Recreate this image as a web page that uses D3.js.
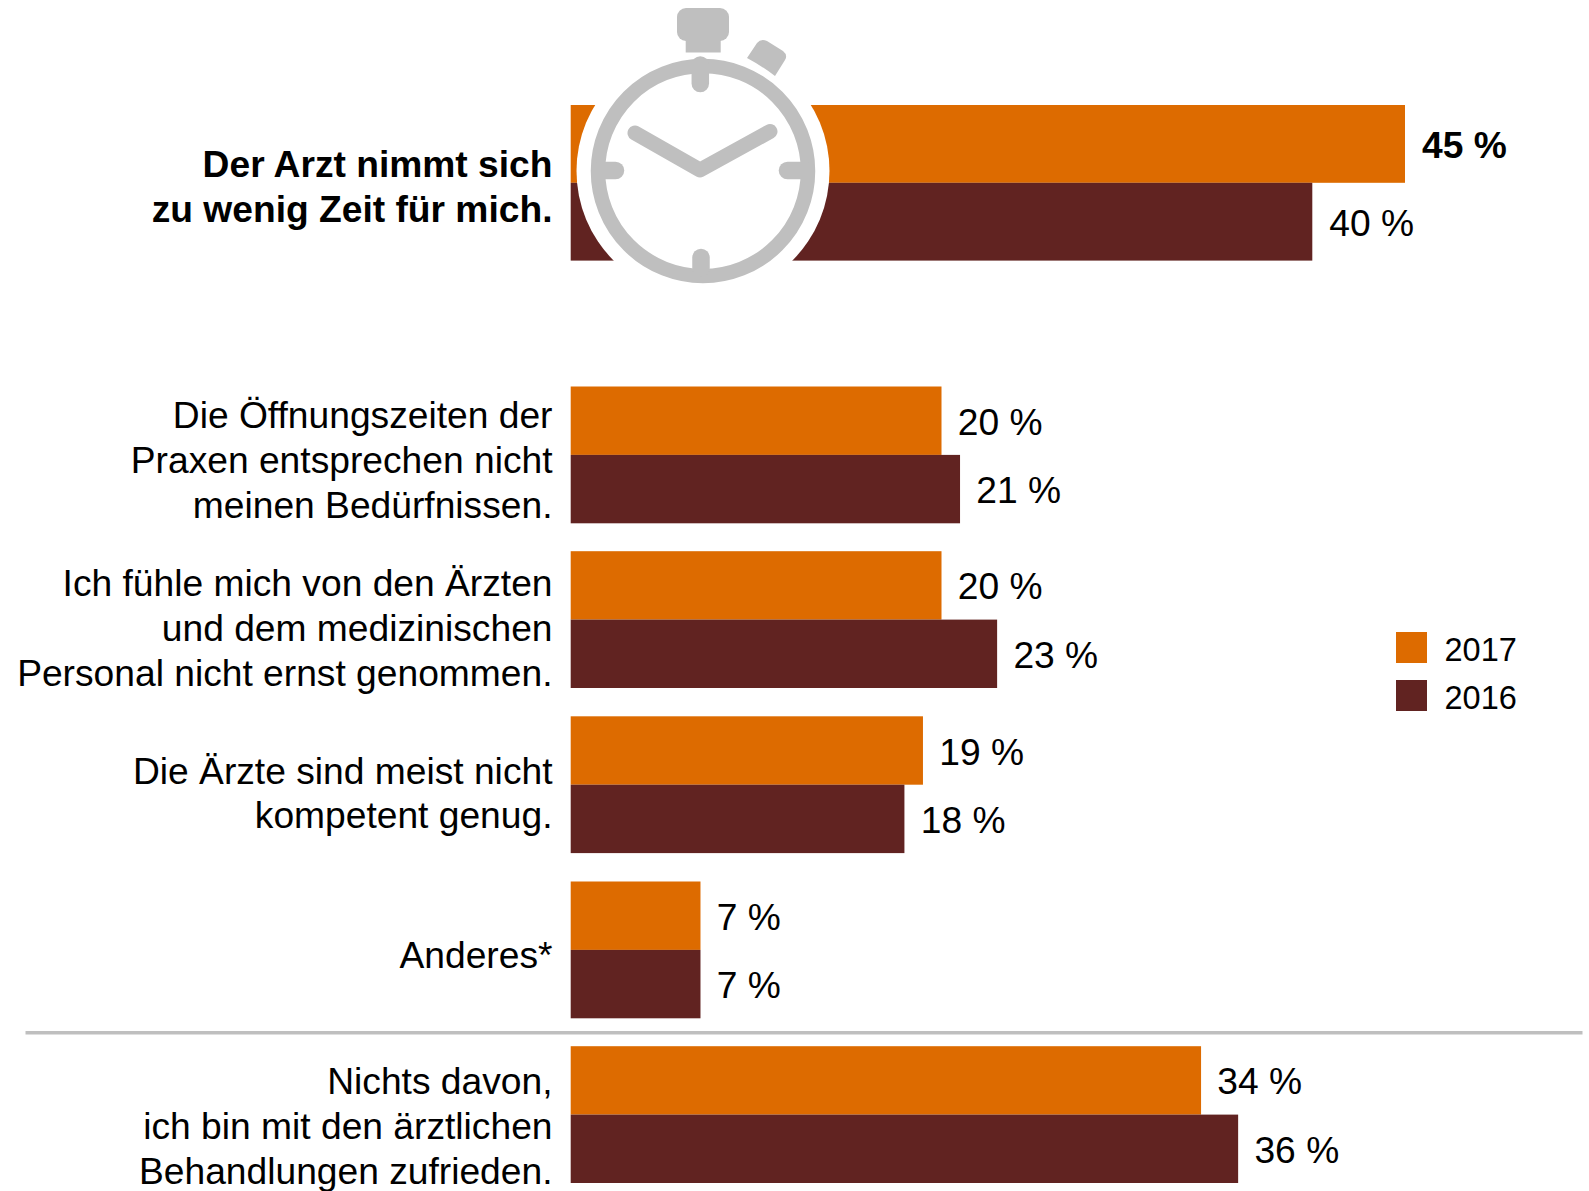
<!DOCTYPE html>
<html><head><meta charset="utf-8"><script src="https://cdn.jsdelivr.net/npm/d3@7"></script>
<style>html,body{margin:0;padding:0;background:#fff}svg{display:block}text{font-family:"Liberation Sans",Arial,sans-serif;fill:#000}</style></head>
<body><svg id="c" width="1589" height="1191"></svg>
<script>
const categories=[["Der Arzt nimmt sich","zu wenig Zeit für mich."],["Die Öffnungszeiten der","Praxen entsprechen nicht","meinen Bedürfnissen."],["Ich fühle mich von den Ärzten","und dem medizinischen","Personal nicht ernst genommen."],["Die Ärzte sind meist nicht","kompetent genug."],["Anderes*"],["Nichts davon,","ich bin mit den ärztlichen","Behandlungen zufrieden."]];
const values2017=[45,20,20,19,7,34];
const values2016=[40,21,23,18,7,36];
const years=["2017","2016"];
const colors=["#dd6b00","#612321"];
// layout
const groupTops=[105,386.5,551.2,716.3,881.5,1046.2];
const labelOffsets=[16.3,18.3,21.2,21.2,18.5,24.2];
const svg=d3.select("#c");
const x=d3.scaleLinear().domain([0,45]).range([570.7,1405]);
const barH=i=>i===0?77.8:68.4;
const FS=37.2,LH=44.8;
categories.forEach((lines,i)=>{
 const top=groupTops[i],h=barH(i),bold=i===0;
 [values2017[i],values2016[i]].forEach((v,k)=>{
  const y=top+k*h;
  svg.append("rect").attr("x",x(0)).attr("y",y).attr("width",x(v)-x(0)).attr("height",h).attr("fill",colors[k]);
  svg.append("text").attr("x",x(v)+(bold?17:16.3)).attr("y",y+h/2+14).attr("font-size",FS)
   .attr("font-weight",bold&&k===0?"bold":"normal").text(v+" %");
 });
 const first=top+h+labelOffsets[i]-(lines.length-1)*LH/2;
 lines.forEach((t,j)=>svg.append("text").attr("x",552.5).attr("y",first+j*LH).attr("text-anchor","end")
  .attr("font-size",FS).attr("font-weight",bold?"bold":"normal").text(t));
});
svg.append("line").attr("x1",25.5).attr("x2",1582.5).attr("y1",1032.8).attr("y2",1032.8).attr("stroke","#bfbfbf").attr("stroke-width",3.5);
years.forEach((yr,k)=>{
 const y=632+k*48;
 svg.append("rect").attr("x",1396).attr("y",y).attr("width",31).attr("height",31).attr("fill",colors[k]);
 svg.append("text").attr("x",1444.5).attr("y",y+29).attr("font-size",32.5).text(yr);
});
const g=svg.append("g"),cx=703,cy=171,gc="#bfbfbf";
g.append("circle").attr("cx",cx).attr("cy",cy).attr("r",126.5).attr("fill","#fff");
g.append("circle").attr("cx",cx).attr("cy",cy).attr("r",105).attr("fill","#fff").attr("stroke",gc).attr("stroke-width",14.5);
g.append("rect").attr("x",677).attr("y",8).attr("width",52).attr("height",33).attr("rx",9).attr("fill",gc);
g.append("rect").attr("x",685.7).attr("y",38).attr("width",35).attr("height",14.5).attr("fill",gc);
g.append("path").attr("fill",gc).attr("d","M 747 58 L 757 43 Q 761 38 767 41 L 783 51 Q 788 55 785 60 L 775 76 Q 762 66 747 58 Z");
const seg=(a,b,c,d,w)=>g.append("line").attr("x1",a).attr("y1",b).attr("x2",c).attr("y2",d).attr("stroke",gc).attr("stroke-width",w).attr("stroke-linecap","round");
g.append("path").attr("d","M 635 133 L 700 170 L 770 131.5").attr("fill","none").attr("stroke",gc).attr("stroke-width",15).attr("stroke-linecap","round").attr("stroke-linejoin","round");
seg(700.3,65,700.3,83.5,17.5);seg(701,268,701,257.5,17.5);seg(600,170.5,615.5,170.5,17.5);seg(806,170.5,787.5,170.5,17.5);
</script></body></html>
